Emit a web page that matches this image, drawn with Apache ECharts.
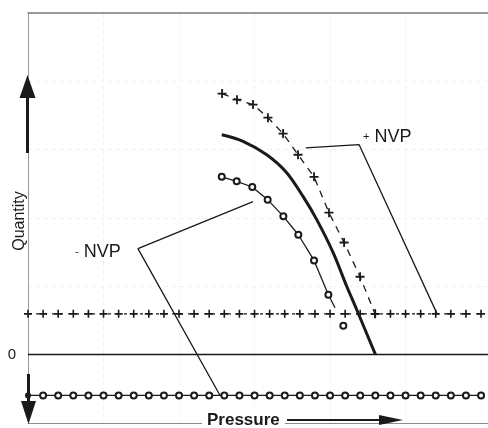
<!DOCTYPE html>
<html><head><meta charset="utf-8">
<script src="https://cdn.jsdelivr.net/npm/echarts/dist/echarts.min.js"></script>
<style>html,body{margin:0;padding:0;background:#fff}#c{width:488px;height:428px}</style>
</head><body><div id="c"></div>
<script>
// ---- data ----
const levelX = [0,1,2,3,4,5,6,7,8,9,10,11,12,13,14,15,16,17,18,19,20,21,22,23,24,25,26,27,28,29,30];
const plusLevelY = [1,1,1,1,1,1,1,1,1,1,1,1,1,1,1,1,1,1,1,1,1,1,1,1,1,1,1,1,1,1,1];
const circleLevelY = [-1,-1,-1,-1,-1,-1,-1,-1,-1,-1,-1,-1,-1,-1,-1,-1,-1,-1,-1,-1,-1,-1,-1,-1,-1,-1,-1,-1,-1,-1,-1];

const plusCurveX = [12.85,13.84,14.9,15.89,16.89,17.88,18.94,19.93,20.93,21.99,22.98];
const plusCurveY = [6.40,6.25,6.13,5.81,5.42,4.90,4.36,3.48,2.75,1.91,1.0];

const circleCurveX = [12.83,13.82,14.85,15.87,16.91,17.9,18.94,19.89,20.33];
const circleCurveY = [4.36,4.25,4.11,3.80,3.39,2.94,2.31,1.47,1.15];
const strayCircleX = [20.88];
const strayCircleY = [0.71];

const mainCurveX = [12.83,14.24,15.81,17.13,18.21,19.12,20.22,21.11,21.77,23.01];
const mainCurveY = [5.39,5.23,4.90,4.46,3.88,3.31,2.49,1.67,1.10,0];

const plusLeaderX = [18.39,21.92,27.09];
const plusLeaderY = [5.07,5.15,1.0];
const minusLeaderX = [14.9,7.28,12.72];
const minusLeaderY = [3.75,2.60,-1.0];

const labels = {y:'Quantity', x:'Pressure', zero:'0', plusNVP:'+ NVP', minusNVP:'- NVP'};

// ---- build ----
const INK = '#1a1a1a';
const PLUS = 'path://M4,0 H6 V4 H10 V6 H6 V10 H4 V6 H0 V4 H4 Z';
const zip = (xs, ys) => xs.map((x, i) => [x, ys[i]]);

const circleCurveData = zip(circleCurveX, circleCurveY).map((p, i, a) =>
  i === a.length - 1 ? {value: p, symbol: 'none'} : p);
const circleLevelData = zip(levelX, circleLevelY).map((p, i) =>
  i === 0 ? {value: p, symbol: 'circle'} : p);

const chart = echarts.init(document.getElementById('c'), null, {renderer: 'canvas'});
chart.setOption({
  animation: false,
  backgroundColor: '#fff',
  textStyle: {fontFamily: 'Liberation Sans, Arial, sans-serif'},
  grid: {left: 28, right: 0, top: 13, bottom: 5, containLabel: false},
  xAxis: [{
    type: 'value', min: 0, max: 30.46, interval: 5,
    axisLine: {show: true, onZero: false, lineStyle: {color: '#8c8c8c', width: 1}},
    axisTick: {show: false}, axisLabel: {show: false},
    splitLine: {show: true, lineStyle: {color: '#f0f0f0', type: [4, 4]}}
  }, {
    type: 'value', position: 'top', min: 0, max: 30.46,
    axisLine: {show: true, onZero: false, lineStyle: {color: '#7a7a7a', width: 1.5}},
    axisTick: {show: false}, axisLabel: {show: false}, splitLine: {show: false}
  }],
  yAxis: {
    type: 'value', min: -1.675, max: 8.375, interval: 1.675,
    axisLine: {show: true, onZero: false, lineStyle: {color: '#9a9a9a', width: 1}},
    axisTick: {show: false}, axisLabel: {show: false},
    splitLine: {show: true, lineStyle: {color: '#f0f0f0', type: [4, 4]}}
  },
  series: [
    {
      type: 'line', data: zip(levelX, plusLevelY),
      symbol: PLUS, symbolSize: 8, itemStyle: {color: INK},
      lineStyle: {color: INK, width: 1.2, type: [3, 5]},
      markLine: {
        silent: true, symbol: 'none', label: {show: false},
        lineStyle: {color: INK, width: 1.3, type: 'solid'},
        data: [{yAxis: 0}]
      }
    },
    {
      type: 'line', data: circleLevelData,
      symbol: 'emptyCircle', symbolSize: 6, itemStyle: {color: INK, borderWidth: 1.3},
      lineStyle: {color: INK, width: 1.3}
    },
    {
      type: 'line', data: zip(plusCurveX, plusCurveY),
      symbol: PLUS, symbolSize: 9, itemStyle: {color: INK},
      lineStyle: {color: INK, width: 1.3, type: [7, 6]}
    },
    {
      type: 'line', data: circleCurveData,
      symbol: 'emptyCircle', symbolSize: 6, itemStyle: {color: INK, borderWidth: 1.3},
      lineStyle: {color: INK, width: 1.3}
    },
    {
      type: 'scatter', data: zip(strayCircleX, strayCircleY),
      symbol: 'emptyCircle', symbolSize: 6, itemStyle: {color: INK, borderWidth: 1.5, opacity: 1}
    },
    {
      type: 'line', data: zip(mainCurveX, mainCurveY), smooth: 0.3,
      symbol: 'none', lineStyle: {color: INK, width: 3}
    },
    {
      type: 'line', data: zip(plusLeaderX, plusLeaderY),
      symbol: 'none', lineStyle: {color: INK, width: 1.3}
    },
    {
      type: 'line', data: zip(minusLeaderX, minusLeaderY),
      symbol: 'none', lineStyle: {color: INK, width: 1.3}
    }
  ],
  graphic: [
    // vertical arrows on the y axis
    {type: 'polygon', z: 100, shape: {points: [[27.5, 75], [19.5, 98], [35.5, 98]]}, style: {fill: INK}},
    {type: 'rect', z: 100, shape: {x: 26, y: 97, width: 3, height: 56}, style: {fill: INK}},
    {type: 'rect', z: 100, shape: {x: 27, y: 374, width: 3, height: 29}, style: {fill: INK}},
    {type: 'polygon', z: 100, shape: {points: [[21, 401], [36, 401], [28.5, 424]]}, style: {fill: INK}},
    // axis titles
    {type: 'text', z: 100, x: 202, y: 420, style: {
      text: labels.x, font: 'bold 17px "Liberation Sans", Arial, sans-serif',
      fill: INK, verticalAlign: 'middle', align: 'left',
      backgroundColor: '#fff', padding: [0, 5, 0, 5]}},
    {type: 'line', z: 100, shape: {x1: 287, y1: 420, x2: 384, y2: 420}, style: {stroke: INK, lineWidth: 2}},
    {type: 'polygon', z: 100, shape: {points: [[379, 415], [379, 425], [403, 420]]}, style: {fill: INK}},
    {type: 'text', z: 100, x: 20, y: 221, rotation: Math.PI / 2, style: {
      text: labels.y, font: '16px "Liberation Sans", Arial, sans-serif',
      fill: INK, align: 'center', verticalAlign: 'middle'}},
    {type: 'text', z: 100, x: 12, y: 355, style: {
      text: labels.zero, font: '15px "Liberation Sans", Arial, sans-serif',
      fill: INK, align: 'center', verticalAlign: 'middle'}},
    {type: 'text', z: 100, x: 363, y: 137, style: {
      text: '{s|+} NVP', font: '18px "Liberation Sans", Arial, sans-serif',
      fill: INK, align: 'left', verticalAlign: 'middle',
      rich: {s: {fontSize: 11, fill: INK}}}},
    {type: 'text', z: 100, x: 75, y: 252, style: {
      text: '{s|-} NVP', font: '18px "Liberation Sans", Arial, sans-serif',
      fill: INK, align: 'left', verticalAlign: 'middle',
      rich: {s: {fontSize: 11, fill: INK}}}}
  ]
});
</script>
</body></html>
